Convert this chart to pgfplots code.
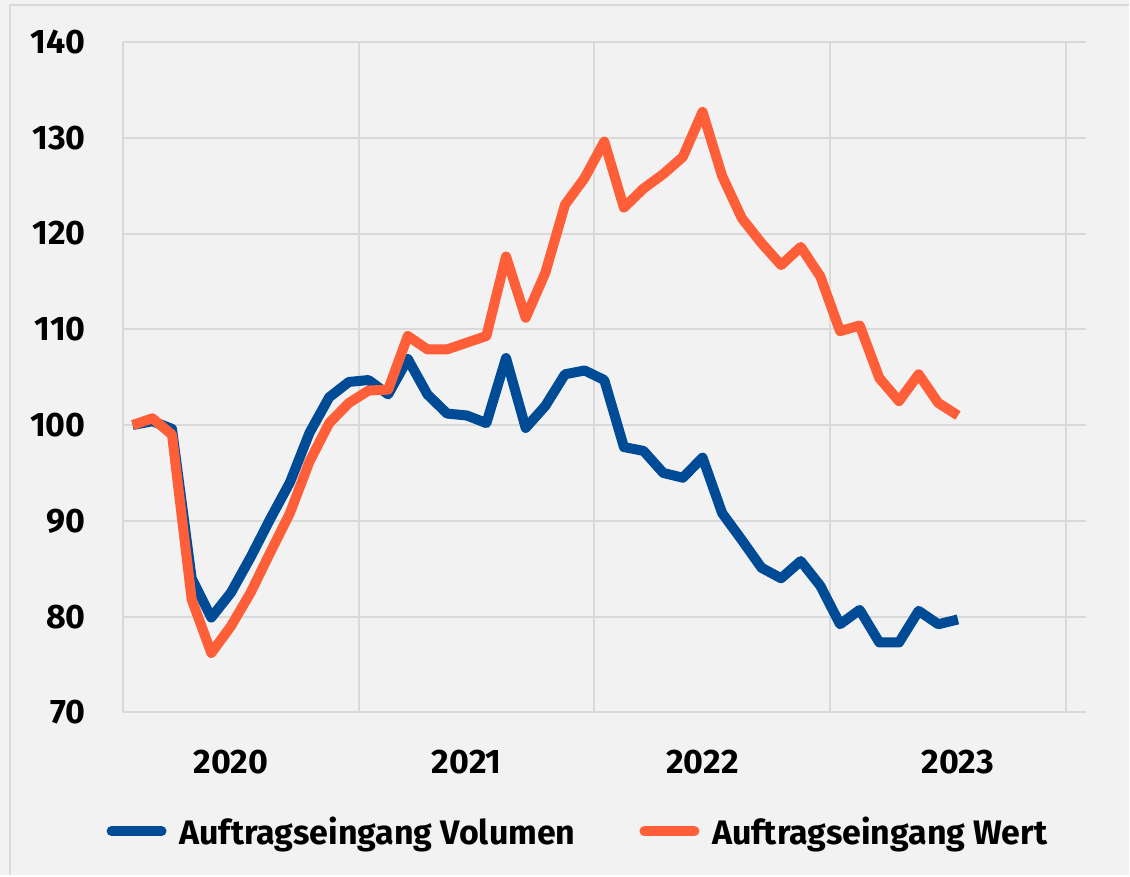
\documentclass[border=0pt]{standalone}
\usepackage{fontspec}
\setmainfont{Fira Sans}[BoldFont={Fira Sans Bold}]
\usepackage{pgfplots}
\usepackage{pgfplotstable}
\pgfplotsset{compat=1.18}

\definecolor{bg}{HTML}{F2F2F2}
\definecolor{gridc}{HTML}{D9D9D9}
\definecolor{volc}{HTML}{004B96}
\definecolor{wertc}{HTML}{FF5F38}

\newcommand{\lbl}{\fontsize{34}{38}\selectfont\bfseries}

% month index, Auftragseingang Volumen, Auftragseingang Wert (index 100)
\pgfplotstableread{
i vol wert
0 100.0 100.0
1 100.4 100.7
2 99.6 99.0
3 84.0 81.8
4 79.9 76.2
5 82.5 79.0
6 86.2 82.5
7 90.2 86.7
8 94.0 90.8
9 99.2 96.2
10 102.9 100.2
11 104.5 102.3
12 104.7 103.6
13 103.2 103.7
14 106.9 109.3
15 103.2 107.9
16 101.2 107.9
17 101.0 108.6
18 100.2 109.3
19 107.0 117.6
20 99.7 111.2
21 102.0 115.9
22 105.3 123.0
23 105.7 125.8
24 104.7 129.6
25 97.7 122.7
26 97.3 124.7
27 95.0 126.2
28 94.5 128.0
29 96.6 132.7
30 90.8 126.0
31 88.0 121.6
32 85.1 119.0
33 84.0 116.7
34 85.8 118.6
35 83.2 115.5
36 79.2 109.8
37 80.7 110.4
38 77.3 104.9
39 77.3 102.5
40 80.6 105.3
41 79.2 102.3
42 79.7 101.0
}\data

\begin{document}
\begin{tikzpicture}
\fill[bg] (0pt,0pt) rectangle (1130pt,876pt);
\draw[gridc,line width=2pt] (10.5pt,0pt) -- (10.5pt,871pt) -- (1130pt,871pt);
\begin{scope}
\clip (0pt,0pt) rectangle (1130pt,876pt);
\begin{axis}[
  at={(123pt,163pt)}, anchor=south west,
  scale only axis, width=964pt, height=671pt,
  xmin=-0.5, xmax=48.52, ymin=70, ymax=140,
  xtick={5,17,29,42}, xticklabels={2020,2021,2022,2023},
  minor xtick={-0.5,11.5,23.5,35.5,47.5},
  ytick={70,80,...,140},
  xmajorgrids=false, xminorgrids=true, ymajorgrids=true,
  grid style={gridc,line width=2pt},
  minor grid style={gridc,line width=2pt},
  axis line style={draw=none},
  major tick length=0pt, minor tick length=0pt,
  /pgf/number format/assume math mode=true,
  ticklabel style={font=\lbl},
  xticklabel style={anchor=center,inner sep=0pt,yshift=-50pt},
  yticklabel style={anchor=east,inner sep=0pt,xshift=-37pt},
  legend columns=2,
  legend style={draw=none,fill=none,font=\lbl,
    at={(0.4725,-0.1773)},anchor=center,
    /tikz/every odd column/.append style={column sep=11pt},
    /tikz/every even column/.append style={column sep=62pt}},
  legend image code/.code={\draw[#1,line cap=round] (0pt,0pt) -- (50pt,0pt);},
  line join=round,
]
\addplot[volc,line width=10pt] table[x=i,y=vol] {\data};
\addlegendentry{Auftragseingang Volumen}
\addplot[wertc,line width=10pt] table[x=i,y=wert] {\data};
\addlegendentry{Auftragseingang Wert}
\end{axis}
\end{scope}
\end{tikzpicture}
\end{document}
